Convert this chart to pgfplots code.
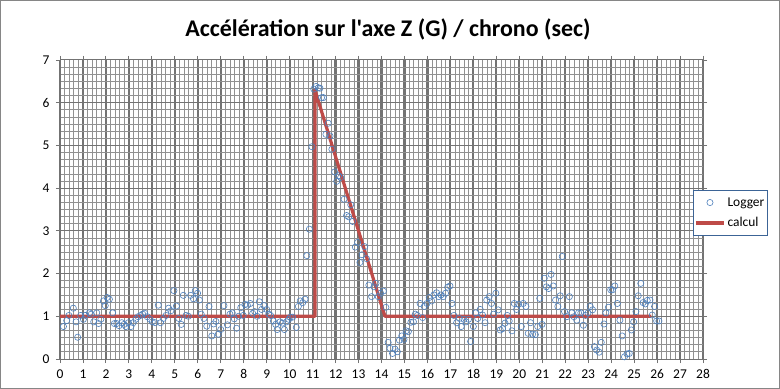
\documentclass[border=0pt]{standalone}
\usepackage{fontspec}
\setmainfont{Carlito}
\newfontfamily\titlefont{Carlito}
\usepackage{pgfplots}
\pgfplotsset{compat=1.18}
\definecolor{logblue}{RGB}{79,129,189}
\definecolor{calcred}{RGB}{190,75,72}
\definecolor{majgrid}{RGB}{115,115,115}
\definecolor{mingrid}{RGB}{145,145,145}
\definecolor{framegray}{RGB}{134,134,134}
\definecolor{legblue}{RGB}{60,100,150}
\pgfplotsset{
  markleg/.style={legend image code/.code={\draw[mark repeat=2,mark phase=2,##1] plot coordinates {(0bp,0bp) (14bp,0bp) (28bp,0bp)};}},
  lineleg/.style={legend image code/.code={\draw[##1] (0bp,0bp) -- (28bp,0bp);}},
}
\pgfplotstableread{
t v
0.15 0.76
0.29 0.90
0.39 1.02
0.58 1.19
0.70 0.87
0.77 0.51
0.90 1.02
1.02 0.93
1.10 1.02
1.28 1.08
1.36 1.05
1.47 0.87
1.60 1.08
1.68 0.83
1.78 0.93
1.89 1.36
1.97 1.25
2.05 1.44
2.15 1.40
2.29 1.08
2.37 0.83
2.47 0.83
2.57 0.78
2.69 0.85
2.79 0.81
2.87 0.76
2.98 0.85
3.09 0.76
3.19 0.85
3.30 0.93
3.40 0.99
3.51 1.02
3.60 1.05
3.69 1.07
3.80 0.99
3.92 0.93
4.02 0.87
4.14 0.85
4.28 1.26
4.38 0.85
4.50 0.95
4.62 1.02
4.73 1.19
4.83 1.13
4.96 1.60
5.07 1.24
5.17 0.95
5.28 0.81
5.37 1.49
5.49 1.02
5.59 1.00
5.69 1.49
5.81 1.41
5.89 1.60
5.99 1.54
6.07 1.38
6.15 1.05
6.27 0.95
6.39 0.77
6.49 1.23
6.61 0.54
6.69 0.82
6.79 0.88
6.89 0.58
7.00 0.69
7.14 1.25
7.29 0.80
7.40 1.05
7.50 1.08
7.59 0.94
7.69 0.72
7.78 1.00
7.87 1.20
7.98 1.02
8.06 1.28
8.16 1.26
8.29 1.30
8.39 1.07
8.48 1.11
8.58 1.00
8.68 1.34
8.78 1.16
8.88 1.25
9.00 1.16
9.09 1.05
9.17 1.02
9.29 0.89
9.39 0.81
9.46 0.69
9.58 0.87
9.68 0.84
9.77 0.69
9.87 0.87
9.96 0.93
10.03 0.98
10.13 0.98
10.29 0.74
10.38 1.23
10.46 1.36
10.57 1.32
10.67 1.40
10.75 2.42
10.86 3.04
10.97 4.97
11.05 6.32
11.15 6.38
11.25 6.35
11.32 6.34
11.39 6.12
11.47 6.12
11.58 5.26
11.68 5.52
11.76 5.22
11.84 4.91
11.96 4.38
12.05 4.16
12.13 4.29
12.22 4.25
12.37 3.74
12.48 3.36
12.57 3.33
12.66 3.61
12.74 3.22
12.86 2.62
12.96 2.73
13.06 2.26
13.15 2.44
13.27 2.63
13.35 2.35
13.45 1.73
13.57 1.46
13.67 1.69
13.76 1.77
13.86 1.46
13.96 1.54
14.08 1.59
14.19 1.21
14.29 0.39
14.37 0.25
14.48 0.13
14.59 0.23
14.69 0.17
14.78 0.44
14.88 0.54
14.98 0.46
15.07 0.66
15.17 0.64
15.28 0.86
15.39 0.87
15.47 1.05
15.56 1.02
15.68 1.30
15.79 0.97
15.86 1.23
15.98 1.30
16.08 1.44
16.18 1.36
16.28 1.50
16.40 1.55
16.49 1.46
16.59 1.50
16.69 1.46
16.79 1.54
16.88 1.68
16.98 1.71
17.07 1.30
17.15 1.02
17.27 0.85
17.39 0.95
17.47 0.76
17.59 0.93
17.68 0.87
17.79 0.93
17.88 0.41
18.00 0.76
18.10 1.08
18.19 0.95
18.30 1.16
18.40 1.03
18.51 0.85
18.58 1.38
18.69 1.46
18.79 1.30
18.88 1.05
18.98 1.54
19.08 1.15
19.17 0.68
19.27 0.71
19.38 0.84
19.48 1.02
19.56 0.89
19.68 0.66
19.78 1.30
19.88 1.16
19.97 1.28
20.09 0.76
20.17 1.30
20.29 1.23
20.39 0.60
20.49 0.85
20.58 0.58
20.70 0.57
20.80 0.76
20.89 1.42
20.99 0.81
21.09 1.89
21.18 1.69
21.28 1.65
21.38 1.98
21.48 1.71
21.58 1.38
21.68 1.23
21.78 1.48
21.87 2.40
21.97 1.11
22.07 0.99
22.18 1.46
22.28 1.08
22.38 0.99
22.50 0.91
22.58 1.08
22.68 1.08
22.79 0.79
22.88 1.02
22.99 1.08
23.09 1.23
23.19 1.15
23.27 0.29
23.37 0.21
23.48 0.16
23.57 0.39
23.69 0.82
23.77 1.08
23.88 1.21
23.98 1.62
24.06 1.62
24.16 1.71
24.27 1.30
24.38 0.91
24.48 0.54
24.58 0.05
24.69 0.12
24.79 0.13
24.88 0.68
24.98 0.87
25.08 1.11
25.18 1.48
25.29 1.77
25.39 1.32
25.49 1.29
25.57 1.37
25.69 1.38
25.79 1.03
25.89 1.23
25.98 0.89
26.08 0.89
}\loggerdata
\pgfplotstableread{
t v
0 1
11.1 1
11.1 6.3
14.15 1
25.75 1
}\calcdata
\begin{document}
\begin{tikzpicture}
\useasboundingbox (-60bp,-30bp) rectangle (720bp,359bp);
\fill[white] (-60bp,-30bp) rectangle (720bp,359bp);
\draw[framegray, line width=0.8bp] (-59.6bp,-29.6bp) rectangle (719.6bp,358.6bp);
\begin{axis}[
  scale only axis, width=643bp, height=299bp,
  xmin=0, xmax=28, ymin=0, ymax=7,
  xtick={0,...,28}, ytick={0,...,7},
  minor x tick num=4, minor y tick num=5,
  grid=both,
  major x grid style={majgrid, line width=2.2bp},
  major y grid style={majgrid, line width=1bp},
  minor grid style={mingrid, line width=0.8bp},
  axis line style={majgrid, line width=1bp},
  tick style={majgrid, line width=0.9bp},
  tick align=outside, major tick length=4bp, minor tick length=0pt,
  ticklabel style={font=\fontsize{13.5}{15}\selectfont},
  /pgf/number format/assume math mode=true,
  xticklabel style={yshift=-3bp},
  yticklabel style={xshift=-3bp},
  legend cell align=left,
  legend style={at={(0.9844,0.565)}, anchor=north west, draw=legblue, line width=0.8bp,
    font=\fontsize{13.5}{15}\selectfont, row sep=6bp, inner xsep=1bp, inner ysep=5bp},
]
\addplot[only marks, mark=o, logblue, mark size=3.1bp, mark options={line width=0.6bp}, markleg]
  table {\loggerdata};
\addlegendentry{Logger}
\addplot[calcred, line width=3.2bp, line join=round, lineleg]
  table {\calcdata};
\addlegendentry{calcul}
\end{axis}
\node[font=\titlefont\bfseries\fontsize{24}{26}\selectfont] at (328bp,330bp) {Accélération sur l'axe Z (G) / chrono (sec)};
\end{tikzpicture}
\end{document}
